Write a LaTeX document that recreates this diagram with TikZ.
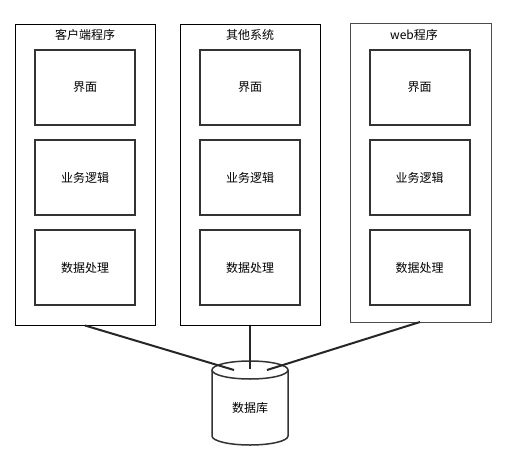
\documentclass[tikz,border=0pt]{standalone}
\usepackage{fontspec}
\setmainfont{Noto Sans CJK SC}

\tikzset{
  outer/.style={draw=black,line width=1pt,minimum width=140pt,minimum height=300pt,inner sep=0pt},
  inner/.style={draw=black!80,line width=2pt,minimum width=100pt,minimum height=75pt,font=\fontsize{12}{14}\selectfont},
  title/.style={anchor=north,font=\fontsize{12}{14}\selectfont,inner sep=0pt},
  link/.style={draw=black!85,line width=2pt},
  dbline/.style={draw=black!80,line width=1.5pt},
  dbtext/.style={font=\fontsize{12}{14}\selectfont,inner sep=0pt}
}

\begin{document}
\begin{tikzpicture}[x=1pt,y=-1pt]
\useasboundingbox (0,0) rectangle (510,465);
% outer boxes
\node[outer] (cl) at (85,175) {};
\node[outer] (oth) at (250,175) {};
\node[outer,draw=black!70,minimum width=141pt,minimum height=298pt] (web) at (420.5,173) {};
\node[title] (clt) at (85,29) {客户端程序};
\node[title] (otht) at (250,29) {其他系统};
\node[title] (webt) at (414,29) {web程序};
% inner boxes
\node[inner] (cl1) at (85,87.5) {界面};
\node[inner] (cl2) at (85,177.5) {业务逻辑};
\node[inner] (cl3) at (85,267.5) {数据处理};
\node[inner] (oth1) at (250,87.5) {界面};
\node[inner] (oth2) at (250,177.5) {业务逻辑};
\node[inner] (oth3) at (250,267.5) {数据处理};
\node[inner] (web1) at (419.5,87.5) {界面};
\node[inner] (web2) at (419.5,177.5) {业务逻辑};
\node[inner] (web3) at (419.5,267.5) {数据处理};
% database
\draw[dbline] (250,370) ellipse [x radius=38pt,y radius=9pt];
\draw[dbline] (212,370) -- (212,436) arc[start angle=180,end angle=360,x radius=38pt,y radius=9pt] -- (288,370);
\node[dbtext] (dbs) at (250,408) {数据库};
\coordinate (dbl) at (234,370);
\coordinate (dbm) at (250,369);
\coordinate (dbr) at (267,370);
\coordinate (webb) at (420,322);
\draw[link] (cl.south) -- (dbl);
\draw[link] (oth.south) -- (dbm);
\draw[link] (webb) -- (dbr);
\end{tikzpicture}
\end{document}
